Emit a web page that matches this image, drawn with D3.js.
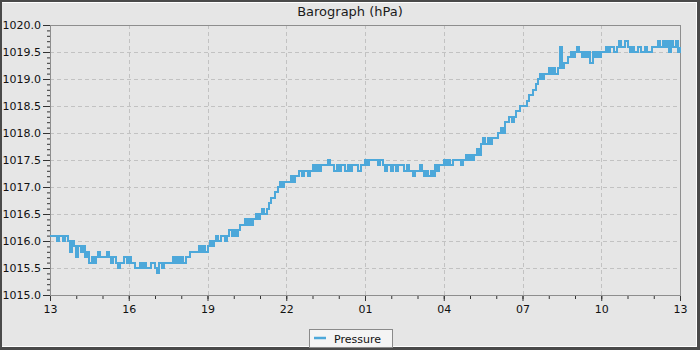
<!DOCTYPE html>
<html><head><meta charset="utf-8">
<script src="https://cdn.jsdelivr.net/npm/d3@7"></script>
<style>
body{margin:0;background:#fff}
svg{display:block}
text{font-family:"DejaVu Sans",sans-serif}
</style>
</head><body>
<svg id="chart" width="700" height="350"></svg>
<script>
// ---- data ----
const chartTitle = "Barograph (hPa)";
const seriesName = "Pressure";
const startTime = new Date(2024, 0, 1, 13, 0, 0);
const endTime = new Date(2024, 0, 2, 13, 0, 0);
const sampleMinutes = 5;
// one row = one hour of 5-minute readings (hPa)
const pressure = [
 1016.1,1016.1,1016.1,1016.0,1016.1,1016.1,1016.0,1016.1,1016.0,1015.8,1016.0,1015.9,
 1015.7,1015.9,1015.8,1015.9,1015.7,1015.8,1015.6,1015.7,1015.6,1015.7,1015.8,1015.7,
 1015.7,1015.7,1015.8,1015.7,1015.6,1015.7,1015.6,1015.5,1015.6,1015.6,1015.7,1015.6,
 1015.7,1015.6,1015.6,1015.5,1015.5,1015.6,1015.5,1015.6,1015.5,1015.5,1015.6,1015.6,
 1015.5,1015.4,1015.6,1015.5,1015.6,1015.6,1015.6,1015.6,1015.7,1015.6,1015.7,1015.6,
 1015.7,1015.6,1015.7,1015.7,1015.8,1015.8,1015.8,1015.8,1015.9,1015.8,1015.9,1015.8,
 1015.9,1016.0,1015.9,1016.0,1016.1,1016.0,1016.1,1016.1,1016.0,1016.1,1016.2,1016.1,
 1016.2,1016.1,1016.2,1016.3,1016.3,1016.4,1016.3,1016.4,1016.3,1016.4,1016.5,1016.4,
 1016.5,1016.6,1016.5,1016.6,1016.7,1016.8,1016.8,1016.9,1017.0,1017.1,1017.0,1017.1,
 1017.1,1017.1,1017.2,1017.1,1017.2,1017.2,1017.3,1017.2,1017.3,1017.3,1017.2,1017.3,
 1017.4,1017.3,1017.4,1017.3,1017.4,1017.4,1017.4,1017.5,1017.4,1017.4,1017.3,1017.4,
 1017.3,1017.4,1017.4,1017.3,1017.4,1017.3,1017.4,1017.4,1017.4,1017.3,1017.4,1017.4,
 1017.5,1017.4,1017.5,1017.5,1017.5,1017.5,1017.4,1017.5,1017.4,1017.3,1017.4,1017.4,
 1017.3,1017.4,1017.3,1017.4,1017.4,1017.4,1017.3,1017.4,1017.3,1017.3,1017.2,1017.3,
 1017.3,1017.4,1017.3,1017.2,1017.3,1017.2,1017.3,1017.2,1017.4,1017.3,1017.4,1017.4,
 1017.5,1017.4,1017.5,1017.4,1017.5,1017.5,1017.5,1017.5,1017.4,1017.5,1017.6,1017.5,
 1017.6,1017.5,1017.6,1017.7,1017.6,1017.8,1017.9,1017.8,1017.9,1017.8,1017.9,1017.9,
 1017.9,1018.0,1018.1,1018.0,1018.2,1018.2,1018.3,1018.2,1018.3,1018.4,1018.4,1018.5,
 1018.5,1018.5,1018.6,1018.7,1018.7,1018.8,1018.9,1019.0,1019.1,1019.0,1019.1,1019.1,
 1019.2,1019.1,1019.2,1019.1,1019.2,1019.6,1019.2,1019.3,1019.3,1019.4,1019.5,1019.4,
 1019.5,1019.6,1019.5,1019.4,1019.5,1019.4,1019.5,1019.3,1019.5,1019.4,1019.5,1019.4,
 1019.5,1019.5,1019.6,1019.5,1019.6,1019.6,1019.5,1019.6,1019.7,1019.6,1019.6,1019.7,
 1019.6,1019.5,1019.6,1019.5,1019.5,1019.6,1019.5,1019.5,1019.6,1019.5,1019.5,1019.6,
 1019.6,1019.6,1019.7,1019.6,1019.7,1019.6,1019.7,1019.5,1019.7,1019.6,1019.7,1019.5,
 1019.6
];
const yMajorTicks = [1015.0,1015.5,1016.0,1016.5,1017.0,1017.5,1018.0,1018.5,1019.0,1019.5,1020.0];
const xTickLabels = ["13","16","19","22","01","04","07","10","13"];

// ---- layout ----
const W = 700, H = 350;
const M = {left:50, right:680, top:25, bottom:295};
const lineColor = "#4da8da";
const bg = "#e6e6e6";

const svg = d3.select("#chart");

// outer panel with bevel
svg.append("rect").attr("x",0).attr("y",0).attr("width",W).attr("height",H).attr("fill","#4a4a4a");
svg.append("rect").attr("x",2).attr("y",2).attr("width",695).attr("height",345).attr("fill","#ffffff");
svg.append("rect").attr("x",2).attr("y",3).attr("width",694).attr("height",343).attr("fill",bg);

const data = pressure.map((v,i)=>({t:new Date(startTime.getTime()+i*sampleMinutes*60000), v}));

const x = d3.scaleTime().domain([startTime,endTime]).range([M.left,M.right]);
const y = d3.scaleLinear().domain([1015,1020]).range([M.bottom,M.top]);

const hourMs = 3600000;
const xMajor = xTickLabels.map((_,k)=>new Date(startTime.getTime()+k*3*hourMs));
const xMinor = d3.range(0,25).map(k=>new Date(startTime.getTime()+k*hourMs));
const yMinor = d3.range(0,51).map(k=>1015+k*0.1);

// grid
const grid = svg.append("g").attr("stroke","#c2c2c2").attr("stroke-width",1).attr("stroke-dasharray","4,3").attr("shape-rendering","crispEdges");
grid.selectAll(".gy").data(yMajorTicks.slice(1,-1)).join("line")
  .attr("x1",M.left).attr("x2",M.right)
  .attr("y1",d=>Math.round(y(d))+0.5).attr("y2",d=>Math.round(y(d))+0.5);
grid.selectAll(".gx").data(xMajor.slice(1,-1)).join("line")
  .attr("y1",M.top).attr("y2",M.bottom)
  .attr("x1",d=>Math.round(x(d))+0.5).attr("x2",d=>Math.round(x(d))+0.5);

// frame
svg.append("rect").attr("x",M.left+0.5).attr("y",M.top+0.5)
  .attr("width",M.right-M.left).attr("height",M.bottom-M.top)
  .attr("fill","none").attr("stroke","#8e8e8e").attr("shape-rendering","crispEdges");

// series
const line = d3.line().x(d=>x(d.t)).y(d=>y(d.v)).curve(d3.curveStepAfter);
svg.append("path").datum(data).attr("d",line)
  .attr("fill","none").attr("stroke",lineColor).attr("stroke-width",2)
  .attr("shape-rendering","crispEdges").attr("stroke-linejoin","miter");

// axes
const axisStyle = g=>{
  g.select(".domain").remove();
  g.selectAll("line").attr("stroke","#333");
  g.selectAll("text").attr("fill","#111").attr("font-size","11px").attr("font-family","DejaVu Sans, sans-serif");
};
svg.append("g").attr("transform",`translate(${M.left},0)`)
  .call(d3.axisLeft(y).tickValues(yMinor).tickSize(3).tickFormat(""))
  .call(axisStyle);
svg.append("g").attr("transform",`translate(${M.left},0)`)
  .call(d3.axisLeft(y).tickValues(yMajorTicks).tickSize(7).tickPadding(2).tickFormat(d3.format(".1f")))
  .call(axisStyle);
svg.append("g").attr("transform",`translate(0,${M.bottom+1})`)
  .call(d3.axisBottom(x).tickValues(xMinor).tickSize(3).tickFormat(""))
  .call(axisStyle);
svg.append("g").attr("transform",`translate(0,${M.bottom+1})`)
  .call(d3.axisBottom(x).tickValues(xMajor).tickSize(5).tickPadding(4).tickFormat((d,i)=>xTickLabels[i]))
  .call(axisStyle);

// title
svg.append("text").attr("x",350).attr("y",16).attr("text-anchor","middle")
  .attr("font-size","13px").attr("fill","#1a1a1a").text(chartTitle);

// legend
const lg = svg.append("g");
lg.append("rect").attr("x",309.5).attr("y",329.5).attr("width",83).attr("height",18)
  .attr("fill","#f4f4f4").attr("stroke","#8a8a8a");
lg.append("line").attr("x1",314).attr("x2",326).attr("y1",338).attr("y2",338)
  .attr("stroke",lineColor).attr("stroke-width",2.5);
lg.append("text").attr("x",334).attr("y",342.5).attr("font-size","11px").attr("fill","#111").text(seriesName);
</script>
</body></html>
